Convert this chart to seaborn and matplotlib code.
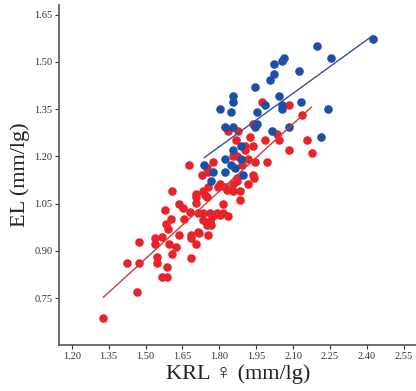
import numpy as np
import pandas as pd
import matplotlib
matplotlib.use("Agg")
import matplotlib.pyplot as plt
import seaborn as sns

# Female (red) series
red_x = [1.975, 2.085, 2.135, 1.936, 1.836, 1.878, 2.033, 1.926, 1.867, 1.985,
         2.044, 2.155, 1.936, 1.905, 1.905, 2.085, 2.175, 1.857, 1.873, 1.915,
         1.776, 1.946, 1.996, 1.676, 1.749, 1.894, 1.755, 1.728, 1.936, 1.943,
         1.873, 1.915, 1.873, 1.857, 1.804, 1.794, 1.825, 1.607, 1.704, 1.735,
         1.755, 1.857, 1.885, 1.749, 1.885, 1.637, 1.651, 1.578, 1.679, 1.707,
         1.707, 1.714, 1.735, 1.762, 1.790, 1.776, 1.814, 1.804, 1.836, 1.815,
         1.605, 1.658, 1.735, 1.749, 1.765, 1.540, 1.565, 1.593, 1.637, 1.686,
         1.686, 1.717, 1.755, 1.537, 1.596, 1.624, 1.704, 1.475, 1.607, 1.547,
         1.547, 1.686, 1.426, 1.475, 1.586, 1.568, 1.586, 1.465, 1.328, 1.763,
         1.714, 1.584, 1.742, 1.830]
red_y = [1.372, 1.362, 1.331, 1.301, 1.281, 1.281, 1.271, 1.261, 1.251, 1.251,
         1.251, 1.251, 1.232, 1.232, 1.221, 1.221, 1.211, 1.201, 1.201, 1.192,
         1.181, 1.181, 1.181, 1.171, 1.162, 1.171, 1.151, 1.142, 1.142, 1.131,
         1.131, 1.112, 1.121, 1.112, 1.112, 1.101, 1.101, 1.090, 1.081, 1.090,
         1.101, 1.090, 1.090, 1.072, 1.062, 1.049, 1.035, 1.030, 1.024, 1.051,
         1.071, 1.019, 1.019, 1.019, 1.019, 1.009, 1.021, 1.014, 1.011, 1.049,
         1.000, 1.000, 0.998, 0.982, 0.982, 0.941, 0.945, 0.969, 0.950, 0.950,
         0.940, 0.955, 0.950, 0.921, 0.920, 0.911, 0.920, 0.929, 0.890, 0.881,
         0.860, 0.878, 0.860, 0.860, 0.848, 0.817, 0.817, 0.768, 0.688, 0.994,
         0.961, 0.985, 1.078, 1.094]

# Male (blue) series
blue_x = [2.425, 2.196, 2.254, 2.065, 2.054, 2.023, 2.023, 2.123, 2.005, 1.946,
          1.857, 1.857, 1.804, 1.846, 2.044, 1.954, 1.985, 2.054, 2.057, 2.132,
          2.243, 1.825, 1.857, 1.954, 1.946, 2.015, 2.085, 2.214, 1.857, 1.888,
          1.825, 1.888, 1.846, 1.738, 1.776, 1.825, 1.865, 1.896, 1.765]
blue_y = [1.571, 1.551, 1.512, 1.512, 1.502, 1.492, 1.462, 1.471, 1.442, 1.421,
          1.391, 1.371, 1.351, 1.340, 1.391, 1.340, 1.362, 1.351, 1.362, 1.371,
          1.351, 1.292, 1.292, 1.301, 1.292, 1.281, 1.292, 1.261, 1.221, 1.232,
          1.192, 1.192, 1.171, 1.171, 1.151, 1.151, 1.162, 1.142, 1.121]

x_ticks = [1.20, 1.35, 1.50, 1.65, 1.80, 1.95, 2.10, 2.25, 2.40, 2.55]
y_ticks = [0.75, 0.90, 1.05, 1.20, 1.35, 1.50, 1.65]

red_df = pd.DataFrame({"KRL": red_x, "EL": red_y})
blue_df = pd.DataFrame({"KRL": blue_x, "EL": blue_y})

sns.set_theme(style="white")
plt.rcParams["font.family"] = ["Liberation Serif", "DejaVu Sans"]

fig = plt.figure(figsize=(4.16, 3.91), dpi=100)
ax = fig.add_axes([0.143, 0.117, 0.857, 0.870])

RED = "#e8232a"
BLUE = "#1d4fa6"

sns.regplot(data=red_df, x="KRL", y="EL", ax=ax, ci=None, color=RED,
            scatter_kws={"s": 38, "alpha": 1, "linewidths": 0, "zorder": 3},
            line_kws={"color": "#cf3a3e", "linewidth": 1.0, "zorder": 4})
sns.regplot(data=blue_df, x="KRL", y="EL", ax=ax, ci=None, color=BLUE,
            scatter_kws={"s": 38, "alpha": 1, "linewidths": 0, "zorder": 3},
            line_kws={"color": "#3a4fa0", "linewidth": 1.0, "zorder": 4})

ax.set_xlim(1.15, 2.60)
ax.set_ylim(0.60, 1.68)
ax.set_xticks(x_ticks)
ax.set_yticks(y_ticks)
ax.set_xticklabels([f"{v:.2f}" for v in x_ticks], fontsize=7.5)
ax.set_yticklabels([f"{v:.2f}" for v in y_ticks], fontsize=7.5)
ax.tick_params(axis="both", direction="out", length=3, width=0.8,
               colors="#333333", pad=2, bottom=True, left=True)

for s in ["top", "right"]:
    ax.spines[s].set_visible(False)
for s in ["left", "bottom"]:
    ax.spines[s].set_color("#555555")
    ax.spines[s].set_linewidth(1.2)

ax.set_xlabel("KRL \u2640 (mm/lg)", fontsize=16, color="#222222", labelpad=2)
ax.set_ylabel("EL (mm/lg)", fontsize=16, color="#222222", labelpad=3)

fig.savefig("out.png", dpi=100)
